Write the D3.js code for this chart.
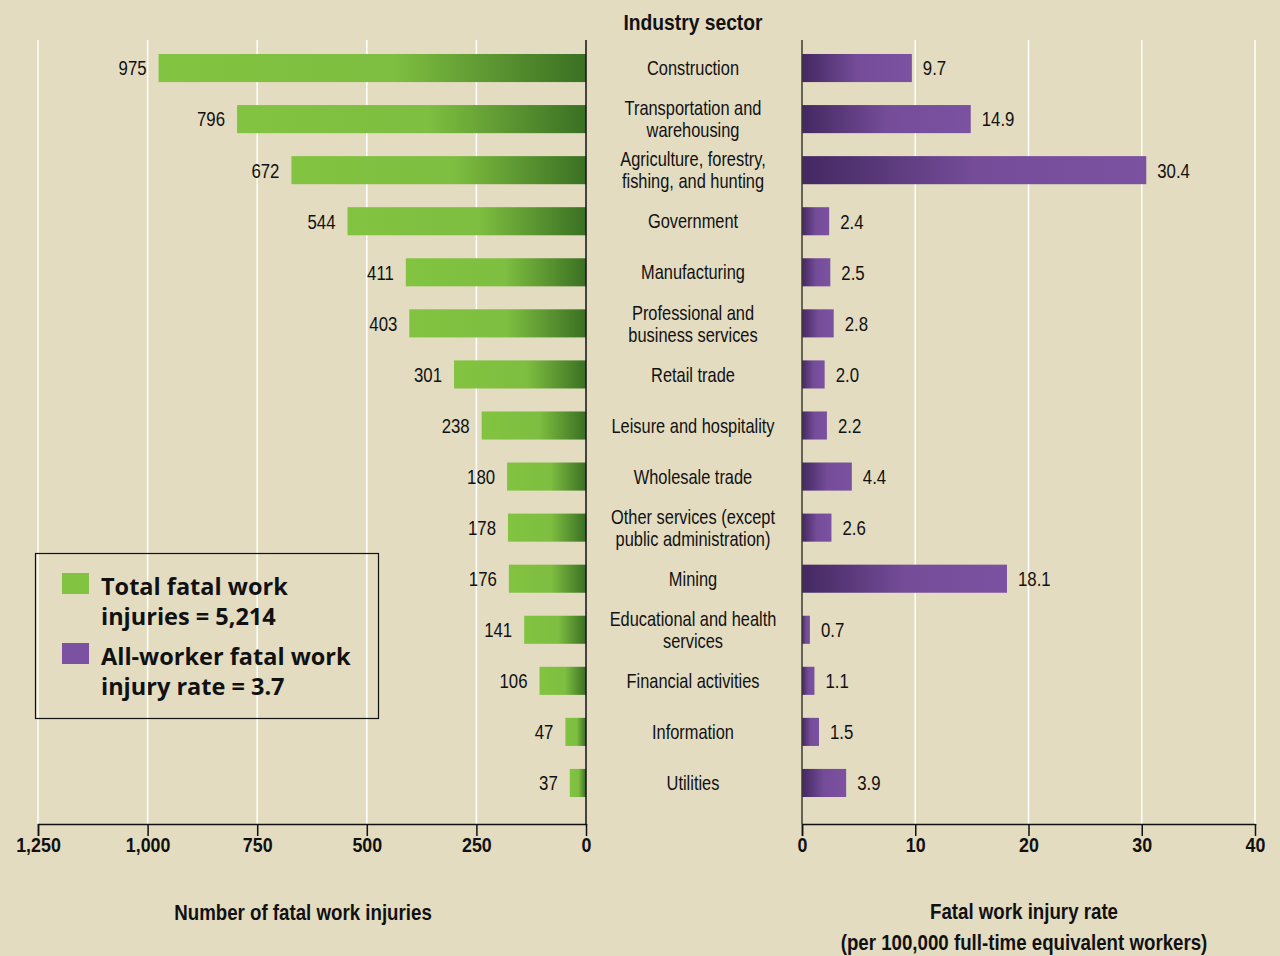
<!DOCTYPE html>
<html lang="en">
<head>
    <meta charset="UTF-8">
    <title>Fatal work injuries by industry sector</title>
    <script src="https://d3js.org/d3.v7.min.js"></script>
    <style>
        body {
            margin: 0;
            background: #e3dcc1;
        }
        svg text {
            font-family: "Liberation Sans", Arial, sans-serif;
            fill: #111;
        }
        svg text.legend-text {
            font-family: "Open Sans", "Noto Sans", sans-serif;
            font-weight: bold;
        }
    </style>
</head>
<body>
    <div id="chart"></div>

    <script>
        const sectors = [
            ["Construction"],
            ["Transportation and", "warehousing"],
            ["Agriculture, forestry,", "fishing, and hunting"],
            ["Government"],
            ["Manufacturing"],
            ["Professional and", "business services"],
            ["Retail trade"],
            ["Leisure and hospitality"],
            ["Wholesale trade"],
            ["Other services (except", "public administration)"],
            ["Mining"],
            ["Educational and health", "services"],
            ["Financial activities"],
            ["Information"],
            ["Utilities"]
        ];
        const fatalCounts = [975, 796, 672, 544, 411, 403, 301, 238, 180, 178, 176, 141, 106, 47, 37];
        const fatalRates = [9.7, 14.9, 30.4, 2.4, 2.5, 2.8, 2.0, 2.2, 4.4, 2.6, 18.1, 0.7, 1.1, 1.5, 3.9];
        const countTicks = [1250, 1000, 750, 500, 250, 0];
        const rateTicks = [0, 10, 20, 30, 40];

        const width = 1280;
        const height = 956;
        const plotTop = 40, plotBottom = 824;
        const narrow = 0.8;      // horizontal squeeze for the condensed look
        const narrowBold = 0.85;

        const svg = d3.select("#chart")
            .append("svg")
            .attr("width", width)
            .attr("height", height);

        svg.append("rect")
            .attr("width", width)
            .attr("height", height)
            .attr("fill", "#e3dcc1");

        // condensed text: a group placed at (x, y) and squeezed horizontally
        function ctext(parent, x, y, lines, opts) {
            const o = Object.assign({ size: 20.5, bold: false, anchor: "middle", squeeze: narrow, lh: 22 }, opts);
            const g = parent.append("g")
                .attr("transform", `translate(${x},${y}) scale(${o.squeeze},1)`);
            const t = g.append("text")
                .attr("text-anchor", o.anchor)
                .style("font-size", o.size + "px")
                .style("font-weight", o.bold ? "bold" : "normal");
            t.selectAll("tspan")
                .data(lines)
                .enter()
                .append("tspan")
                .attr("x", 0)
                .attr("y", (d, k) => (k - (lines.length - 1) / 2) * o.lh)
                .attr("dy", "0.35em")
                .text(d => d);
            return g;
        }

        // gradients
        const defs = svg.append("defs");
        const gGreen = defs.append("linearGradient").attr("id", "green");
        gGreen.append("stop").attr("offset", "0").attr("stop-color", "#82c341");
        gGreen.append("stop").attr("offset", "0.55").attr("stop-color", "#7ebe40");
        gGreen.append("stop").attr("offset", "1").attr("stop-color", "#3a7023");
        const gPurple = defs.append("linearGradient").attr("id", "purple");
        gPurple.append("stop").attr("offset", "0").attr("stop-color", "#432861");
        gPurple.append("stop").attr("offset", "0.5").attr("stop-color", "#744c98");
        gPurple.append("stop").attr("offset", "1").attr("stop-color", "#7b52a1");

        const rows = d3.range(sectors.length);

        const y = d3.scaleBand()
            .domain(rows)
            .range([42.5, 808.5])
            .paddingInner(0.45)
            .paddingOuter(0.225);
        const cy = i => y(i) + y.bandwidth() / 2;

        const xLeft = d3.scaleLinear()
            .domain([1250, 0])
            .range([38, 586]);

        const xRight = d3.scaleLinear()
            .domain([0, 40])
            .range([802, 1255]);

        // gridlines
        svg.append("g")
            .selectAll("line")
            .data(countTicks.filter(d => d > 0))
            .enter()
            .append("line")
            .attr("x1", d => xLeft(d))
            .attr("x2", d => xLeft(d))
            .attr("y1", plotTop)
            .attr("y2", plotBottom)
            .attr("stroke", "#fff")
            .attr("stroke-width", 1.5);

        svg.append("g")
            .selectAll("line")
            .data(rateTicks.filter(d => d > 0))
            .enter()
            .append("line")
            .attr("x1", d => xRight(d))
            .attr("x2", d => xRight(d))
            .attr("y1", plotTop)
            .attr("y2", plotBottom)
            .attr("stroke", "#fff")
            .attr("stroke-width", 1.5);

        // left bars
        svg.append("g")
            .selectAll("rect")
            .data(rows)
            .enter()
            .append("rect")
            .attr("x", i => xLeft(fatalCounts[i]))
            .attr("y", i => y(i))
            .attr("width", i => xLeft(0) - xLeft(fatalCounts[i]))
            .attr("height", y.bandwidth())
            .attr("fill", "url(#green)");

        const labelLayer = svg.append("g");
        rows.forEach(i => {
            ctext(labelLayer, xLeft(fatalCounts[i]) - 12, cy(i), [String(fatalCounts[i])], { anchor: "end", size: 21 });
        });

        // right bars
        svg.append("g")
            .selectAll("rect")
            .data(rows)
            .enter()
            .append("rect")
            .attr("x", xRight(0))
            .attr("y", i => y(i))
            .attr("width", i => xRight(fatalRates[i]) - xRight(0))
            .attr("height", y.bandwidth())
            .attr("fill", "url(#purple)");

        rows.forEach(i => {
            ctext(labelLayer, xRight(fatalRates[i]) + 11, cy(i), [fatalRates[i].toFixed(1)], { anchor: "start", size: 21 });
        });

        // sector labels
        rows.forEach(i => {
            ctext(labelLayer, 693, cy(i), sectors[i], {});
        });

        ctext(svg, 693, 22, ["Industry sector"], { size: 22, bold: true, squeeze: 0.875 });

        // axes
        const leftAxis = svg.append("g")
            .attr("transform", `translate(0,${plotBottom})`)
            .call(d3.axisBottom(xLeft).tickValues(countTicks).tickSize(12).tickPadding(1)
                .tickFormat(d3.format(",")));

        const rightAxis = svg.append("g")
            .attr("transform", `translate(0,${plotBottom})`)
            .call(d3.axisBottom(xRight).tickValues(rateTicks).tickSize(12).tickPadding(1));

        [leftAxis, rightAxis].forEach(ax => {
            ax.select(".domain")
                .attr("stroke", "#111")
                .attr("stroke-width", 1.5)
                .attr("d", function () {
                    return d3.select(this).attr("d").replace(/V12/g, "V0");
                });
            ax.selectAll(".tick line").attr("stroke", "#111").attr("stroke-width", 1.5);
            ax.selectAll(".tick text")
                .attr("transform", `scale(${narrowBold},1)`)
                .attr("fill", "#111")
                .style("font-size", "21px")
                .style("font-weight", "bold");
        });

        // vertical zero lines
        svg.append("line")
            .attr("x1", xLeft(0)).attr("x2", xLeft(0))
            .attr("y1", plotTop).attr("y2", plotBottom)
            .attr("stroke", "#111").attr("stroke-width", 1.5);
        svg.append("line")
            .attr("x1", xRight(0)).attr("x2", xRight(0))
            .attr("y1", plotTop).attr("y2", plotBottom)
            .attr("stroke", "#3d3a33").attr("stroke-width", 1.5);

        // axis titles
        ctext(svg, 303, 912, ["Number of fatal work injuries"], { size: 22, bold: true, squeeze: narrowBold });
        ctext(svg, 1024, 927, ["Fatal work injury rate", "(per 100,000 full-time equivalent workers)"],
            { size: 22, bold: true, squeeze: narrowBold, lh: 31 });

        // legend
        const legend = svg.append("g");
        legend.append("rect")
            .attr("x", 35.5).attr("y", 553.5)
            .attr("width", 343).attr("height", 165)
            .attr("fill", "none")
            .attr("stroke", "#111")
            .attr("stroke-width", 1.2);

        const legendItems = [
            { fill: "#82c341", lines: ["Total fatal work", "injuries = 5,214"] },
            { fill: "#7b52a1", lines: ["All-worker fatal work", "injury rate = 3.7"] }
        ];
        legendItems.forEach((item, k) => {
            const top = 573 + k * 70;
            legend.append("rect")
                .attr("x", 62).attr("y", top)
                .attr("width", 27).attr("height", 21)
                .attr("fill", item.fill);
            legend.append("text")
                .attr("class", "legend-text")
                .attr("x", 101)
                .attr("y", top + 22)
                .style("font-size", "23.5px")
                .selectAll("tspan")
                .data(item.lines)
                .enter()
                .append("tspan")
                .attr("x", 101)
                .attr("dy", (d, j) => j === 0 ? 0 : 30)
                .text(d => d);
        });
    </script>
</body>
</html>
